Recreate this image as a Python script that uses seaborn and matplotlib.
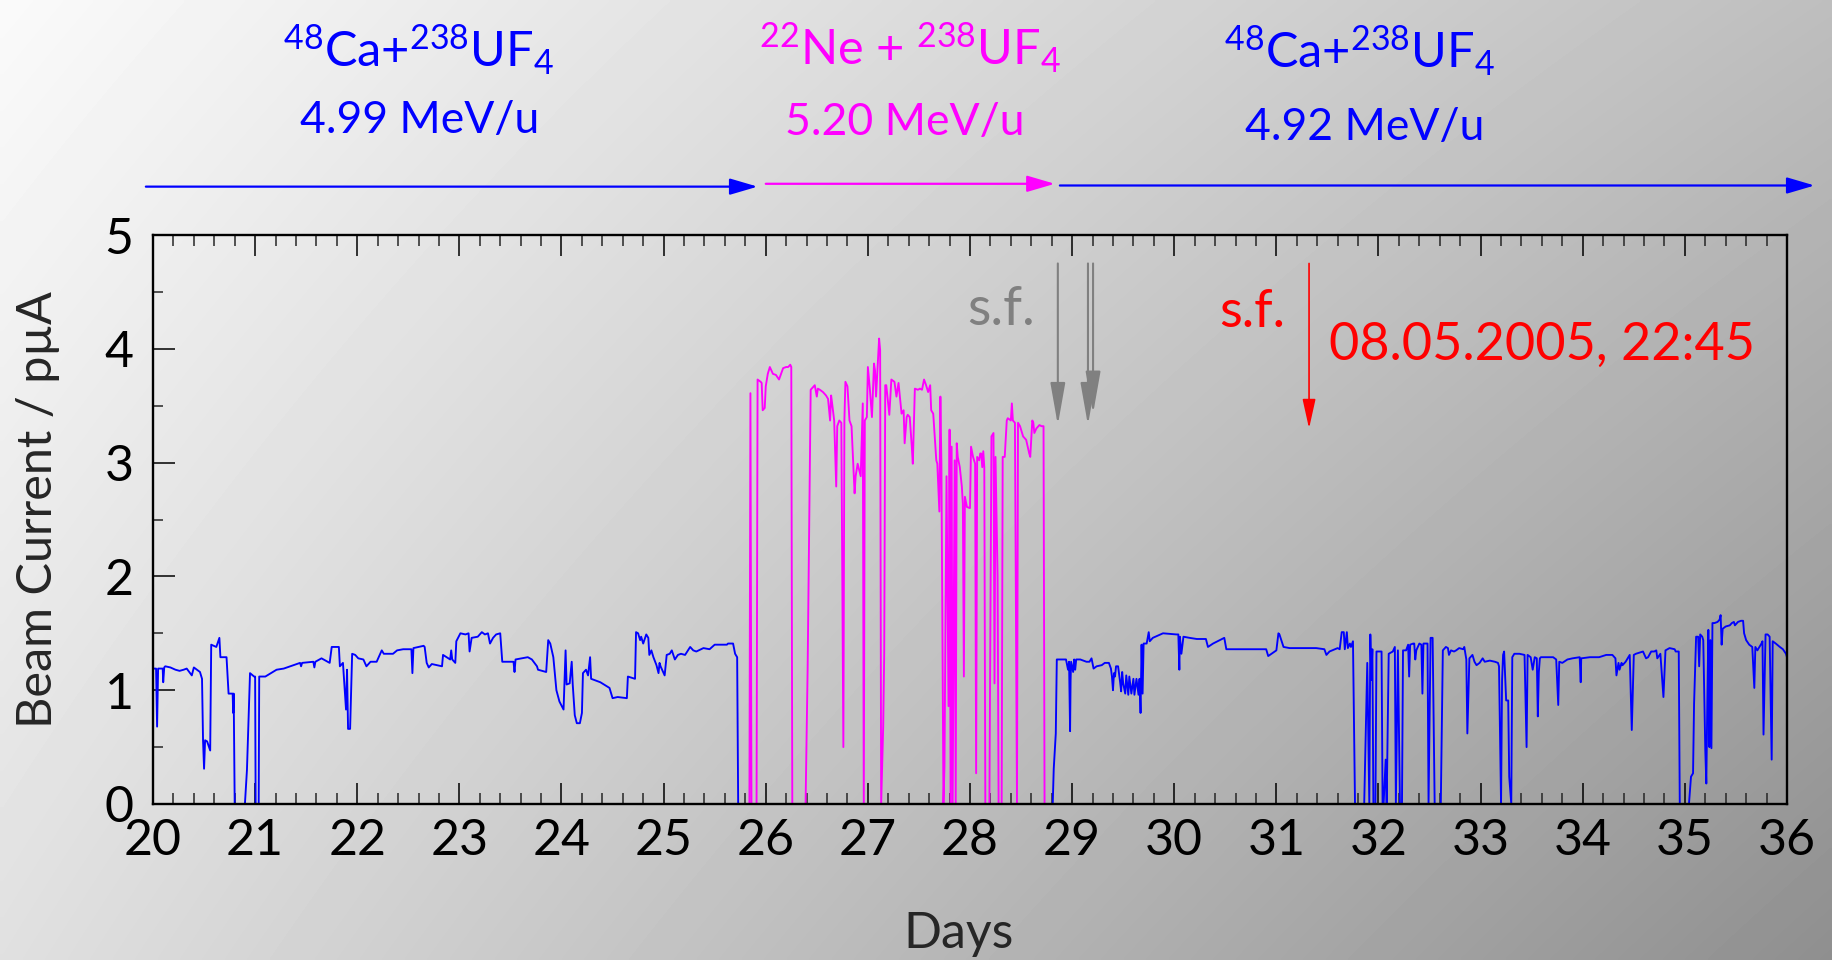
import numpy as np
import pandas as pd
import matplotlib
matplotlib.use("Agg")
import matplotlib.pyplot as plt
from matplotlib.ticker import MultipleLocator
import seaborn as sns

# ---------------- data (day, beam current in pµA) ----------------
BLUE_RUN1 = [
    (20.00, 1.19), (20.03, 1.19), (20.04, 0.68), (20.05, 1.19), (20.095, 1.19), (20.10, 1.07),
    (20.11, 1.20), (20.12, 1.21), (20.17, 1.20), (20.22, 1.18), (20.26, 1.17), (20.30, 1.18),
    (20.33, 1.19), (20.38, 1.13), (20.40, 1.20), (20.43, 1.18), (20.46, 1.16), (20.48, 1.10),
    (20.49, 0.56), (20.50, 0.31), (20.51, 0.56), (20.53, 0.55), (20.56, 0.47), (20.57, 1.40),
    (20.62, 1.38), (20.65, 1.46), (20.66, 1.29), (20.72, 1.29), (20.74, 0.97), (20.78, 0.97),
    (20.785, 0.80), (20.79, 0.97), (20.80, 0.00), (20.90, 0.00), (20.92, 0.30), (20.95, 1.15),
    (20.99, 1.12), (21.00, 1.12), (21.005, 0.00), (21.035, 0.00), (21.04, 1.12), (21.10, 1.12),
    (21.21, 1.18), (21.28, 1.19), (21.44, 1.24), (21.45, 1.21), (21.46, 1.24), (21.57, 1.25),
    (21.58, 1.20), (21.59, 1.25), (21.65, 1.28), (21.73, 1.24), (21.75, 1.38), (21.82, 1.38),
    (21.83, 1.21), (21.86, 1.24), (21.89, 0.83), (21.90, 1.18), (21.91, 0.66), (21.93, 0.66),
    (21.95, 1.32), (21.98, 1.31), (22.01, 1.28), (22.06, 1.27), (22.09, 1.21), (22.13, 1.25),
    (22.19, 1.25), (22.22, 1.31), (22.24, 1.35), (22.26, 1.32), (22.35, 1.32), (22.39, 1.35),
    (22.45, 1.36), (22.53, 1.36), (22.54, 1.15), (22.55, 1.37), (22.65, 1.39), (22.66, 1.38),
    (22.68, 1.24), (22.70, 1.20), (22.73, 1.23), (22.83, 1.21), (22.84, 1.31), (22.91, 1.27),
    (22.92, 1.35), (22.93, 1.27), (22.96, 1.24), (22.97, 1.43), (23.01, 1.50), (23.06, 1.49),
    (23.09, 1.50), (23.10, 1.34), (23.12, 1.46), (23.18, 1.47), (23.22, 1.51), (23.25, 1.49),
    (23.28, 1.50), (23.30, 1.41), (23.33, 1.46), (23.36, 1.49), (23.40, 1.50), (23.42, 1.25),
    (23.53, 1.25), (23.54, 1.16), (23.55, 1.27), (23.67, 1.29), (23.71, 1.27), (23.76, 1.21),
    (23.77, 1.18), (23.85, 1.16), (23.87, 1.44), (23.89, 1.41), (23.92, 1.29), (23.95, 1.00),
    (23.98, 0.90), (24.02, 0.83), (24.04, 1.35), (24.05, 1.05), (24.08, 1.06), (24.10, 1.25),
    (24.11, 1.05), (24.13, 0.78), (24.15, 0.71), (24.18, 0.71), (24.20, 0.80), (24.21, 1.15),
    (24.24, 1.18), (24.26, 1.13), (24.28, 1.29), (24.29, 1.10), (24.38, 1.07), (24.47, 1.02),
    (24.50, 0.93), (24.55, 0.94), (24.64, 0.93), (24.65, 1.12), (24.72, 1.10), (24.73, 1.51),
    (24.75, 1.50), (24.77, 1.44), (24.78, 1.47), (24.80, 1.41), (24.83, 1.49), (24.85, 1.46),
    (24.86, 1.31), (24.88, 1.35), (24.90, 1.29), (24.93, 1.22), (24.95, 1.15), (24.96, 1.24),
    (24.97, 1.21), (25.01, 1.13), (25.03, 1.31), (25.06, 1.32), (25.08, 1.35), (25.11, 1.27),
    (25.14, 1.31), (25.17, 1.32), (25.21, 1.31), (25.26, 1.38), (25.29, 1.35), (25.32, 1.34),
    (25.39, 1.37), (25.45, 1.36), (25.50, 1.40), (25.62, 1.40), (25.63, 1.41), (25.68, 1.41),
    (25.70, 1.32), (25.72, 1.29), (25.73, 0.00),
]

NE_RUN = [
    (25.84, 0.00), (25.85, 3.61), (25.86, 0.00), (25.91, 0.00), (25.92, 3.73), (25.95, 3.71),
    (25.96, 3.70), (25.97, 3.46), (25.99, 3.48), (26.00, 3.67), (26.02, 3.78), (26.04, 3.84),
    (26.06, 3.80), (26.07, 3.78), (26.10, 3.77), (26.13, 3.73), (26.15, 3.78), (26.17, 3.83),
    (26.20, 3.84), (26.22, 3.84), (26.24, 3.86), (26.25, 3.84), (26.26, 0.00), (26.39, 0.00),
    (26.41, 1.18), (26.44, 3.64), (26.45, 3.65), (26.48, 3.68), (26.50, 3.58), (26.51, 3.65),
    (26.53, 3.64), (26.56, 3.62), (26.59, 3.59), (26.61, 3.56), (26.63, 3.37), (26.64, 3.59),
    (26.65, 3.52), (26.67, 3.37), (26.69, 2.79), (26.70, 3.32), (26.72, 3.37), (26.74, 3.35),
    (26.76, 0.50), (26.77, 3.37), (26.78, 3.71), (26.80, 3.67), (26.82, 3.37), (26.84, 3.32),
    (26.87, 2.73), (26.88, 2.88), (26.90, 2.99), (26.93, 2.88), (26.95, 3.52), (26.96, 0.00),
    (26.97, 3.37), (26.99, 3.40), (27.00, 3.84), (27.02, 3.64), (27.04, 3.40), (27.06, 3.87),
    (27.07, 3.81), (27.08, 3.58), (27.11, 4.09), (27.12, 3.99), (27.13, 0.00), (27.15, 0.68),
    (27.16, 1.32), (27.17, 3.68), (27.18, 3.68), (27.21, 3.42), (27.23, 3.73), (27.26, 3.71),
    (27.28, 3.58), (27.30, 3.70), (27.33, 3.43), (27.35, 3.46), (27.36, 3.17), (27.38, 3.40),
    (27.39, 3.42), (27.41, 3.40), (27.43, 3.14), (27.44, 2.99), (27.46, 3.65), (27.49, 3.64),
    (27.51, 3.65), (27.53, 3.64), (27.55, 3.73), (27.57, 3.68), (27.59, 3.62), (27.61, 3.68),
    (27.62, 3.46), (27.64, 3.43), (27.67, 3.02), (27.68, 2.99), (27.70, 2.57), (27.71, 3.58),
    (27.72, 2.99), (27.74, 0.00), (27.75, 0.33), (27.77, 2.88), (27.79, 0.86), (27.80, 3.29),
    (27.81, 0.00), (27.82, 3.14), (27.83, 0.00), (27.85, 3.02), (27.86, 0.00), (27.87, 3.17),
    (27.88, 3.05), (27.90, 2.96), (27.92, 2.79), (27.93, 2.64), (27.94, 1.12), (27.95, 2.70),
    (27.97, 2.61), (28.00, 2.60), (28.01, 3.14), (28.03, 3.05), (28.05, 2.99), (28.06, 0.27),
    (28.07, 3.05), (28.09, 3.02), (28.10, 3.08), (28.11, 3.08), (28.12, 2.96), (28.13, 3.10),
    (28.14, 2.96), (28.15, 0.00), (28.19, 0.00), (28.21, 3.23), (28.23, 3.26), (28.24, 1.06),
    (28.25, 3.05), (28.27, 2.00), (28.28, 0.00), (28.31, 0.00), (28.32, 3.05), (28.34, 3.05),
    (28.36, 3.37), (28.37, 3.39), (28.40, 3.37), (28.41, 3.52), (28.42, 3.37), (28.44, 3.35),
    (28.46, 0.00), (28.47, 3.35), (28.49, 3.32), (28.50, 3.29), (28.52, 3.23), (28.55, 3.20),
    (28.58, 3.08), (28.59, 3.05), (28.61, 3.37), (28.62, 3.35), (28.63, 3.26), (28.65, 3.30),
    (28.67, 3.32), (28.68, 3.33), (28.70, 3.32), (28.72, 3.32), (28.73, 0.00),
]

BLUE_RUN2 = [
    (28.81, 0.00), (28.82, 0.31), (28.84, 0.62), (28.85, 1.27), (28.88, 1.27), (28.93, 1.27),
    (28.94, 1.27), (28.96, 1.18), (28.97, 1.25), (28.98, 0.64), (28.985, 1.09), (28.99, 1.25),
    (29.01, 1.16), (29.02, 1.27), (29.03, 1.18), (29.04, 1.27), (29.08, 1.27), (29.11, 1.26),
    (29.14, 1.25), (29.17, 1.25), (29.19, 1.28), (29.21, 1.19), (29.24, 1.21), (29.29, 1.22),
    (29.32, 1.24), (29.36, 1.24), (29.38, 1.19), (29.39, 1.12), (29.40, 1.00), (29.41, 1.15),
    (29.42, 1.12), (29.43, 1.21), (29.45, 1.21), (29.47, 1.07), (29.48, 0.99), (29.49, 1.16),
    (29.50, 1.06), (29.52, 0.97), (29.53, 1.13), (29.55, 0.96), (29.56, 1.12), (29.58, 0.97),
    (29.60, 1.10), (29.61, 0.96), (29.63, 1.10), (29.65, 0.96), (29.66, 1.10), (29.67, 0.80),
    (29.68, 1.40), (29.69, 0.97), (29.70, 1.41), (29.73, 1.41), (29.75, 1.51), (29.76, 1.43),
    (29.79, 1.46), (29.89, 1.50), (30.02, 1.49), (30.04, 1.49), (30.05, 1.18), (30.055, 1.47),
    (30.07, 1.32), (30.09, 1.47), (30.15, 1.46), (30.22, 1.45), (30.31, 1.45), (30.33, 1.38),
    (30.38, 1.41), (30.49, 1.46), (30.51, 1.36), (30.61, 1.36), (30.74, 1.36), (30.90, 1.36),
    (30.92, 1.30), (31.00, 1.35), (31.02, 1.50), (31.03, 1.49), (31.07, 1.38), (31.13, 1.37),
    (31.39, 1.37), (31.47, 1.36), (31.49, 1.31), (31.52, 1.34), (31.60, 1.37), (31.62, 1.36),
    (31.64, 1.51), (31.66, 1.51), (31.67, 1.36), (31.69, 1.51), (31.70, 1.37), (31.72, 1.41),
    (31.73, 1.38), (31.75, 1.43), (31.77, 0.00), (31.86, 0.00), (31.89, 1.24), (31.91, 0.00),
    (31.92, 1.49), (31.93, 1.09), (31.94, 1.36), (31.95, 0.00), (31.97, 0.00), (31.98, 1.34),
    (32.03, 1.34), (32.04, 0.00), (32.05, 0.00), (32.07, 0.39), (32.08, 0.00), (32.10, 1.32),
    (32.14, 1.34), (32.16, 1.38), (32.17, 0.00), (32.19, 1.35), (32.21, 0.00), (32.23, 0.00),
    (32.24, 1.35), (32.27, 1.35), (32.29, 1.40), (32.30, 1.12), (32.31, 1.40), (32.34, 1.41),
    (32.35, 1.41), (32.36, 1.27), (32.37, 1.35), (32.40, 1.41), (32.42, 1.40), (32.43, 0.97),
    (32.44, 1.41), (32.47, 1.41), (32.48, 1.41), (32.49, 0.00), (32.51, 1.46), (32.53, 1.46),
    (32.55, 0.00), (32.61, 0.00), (32.63, 1.35), (32.65, 1.37), (32.66, 1.38), (32.68, 1.37),
    (32.69, 1.31), (32.71, 1.35), (32.74, 1.34), (32.76, 1.35), (32.79, 1.37), (32.83, 1.36),
    (32.84, 1.38), (32.86, 1.27), (32.87, 0.62), (32.89, 1.28), (32.92, 1.31), (32.94, 1.25),
    (32.96, 1.22), (32.99, 1.24), (33.02, 1.28), (33.04, 1.25), (33.09, 1.26), (33.14, 1.25),
    (33.17, 1.24), (33.18, 1.21), (33.20, 0.00), (33.21, 1.09), (33.22, 1.31), (33.23, 1.34),
    (33.25, 0.91), (33.27, 0.91), (33.28, 0.24), (33.30, 0.00), (33.31, 1.29), (33.33, 1.32),
    (33.38, 1.32), (33.43, 1.31), (33.45, 0.50), (33.46, 1.31), (33.49, 1.29), (33.51, 1.18),
    (33.53, 1.29), (33.55, 1.28), (33.56, 0.77), (33.57, 1.16), (33.58, 1.28), (33.59, 1.29),
    (33.64, 1.29), (33.71, 1.29), (33.74, 1.27), (33.76, 0.87), (33.77, 1.25), (33.80, 1.24),
    (33.85, 1.27), (33.90, 1.28), (33.97, 1.29), (33.98, 1.07), (33.985, 1.28), (34.07, 1.29),
    (34.16, 1.29), (34.23, 1.31), (34.29, 1.31), (34.32, 1.28), (34.33, 1.13), (34.35, 1.24),
    (34.36, 1.18), (34.38, 1.24), (34.39, 1.22), (34.42, 1.25), (34.46, 1.31), (34.48, 0.65),
    (34.50, 1.31), (34.52, 1.32), (34.59, 1.34), (34.62, 1.28), (34.64, 1.29), (34.67, 1.34),
    (34.70, 1.34), (34.72, 1.35), (34.73, 1.28), (34.76, 1.32), (34.79, 0.94), (34.81, 1.35),
    (34.85, 1.37), (34.90, 1.36), (34.91, 1.34), (34.94, 1.34), (34.95, 0.00), (35.04, 0.00),
    (35.06, 0.24), (35.08, 0.27), (35.09, 0.88), (35.11, 1.47), (35.13, 1.47), (35.14, 1.21),
    (35.15, 1.49), (35.17, 1.47), (35.18, 1.44), (35.20, 0.47), (35.21, 0.18), (35.22, 0.91),
    (35.23, 1.53), (35.235, 0.83), (35.24, 0.50), (35.25, 1.44), (35.26, 0.49), (35.27, 1.59),
    (35.29, 1.59), (35.32, 1.60), (35.34, 1.62), (35.35, 1.66), (35.36, 1.40), (35.37, 1.54),
    (35.40, 1.56), (35.44, 1.57), (35.46, 1.59), (35.48, 1.60), (35.49, 1.57), (35.52, 1.60),
    (35.55, 1.61), (35.57, 1.61), (35.58, 1.50), (35.60, 1.44), (35.63, 1.40), (35.66, 1.38),
    (35.68, 1.02), (35.69, 1.38), (35.71, 1.35), (35.73, 1.38), (35.75, 1.41), (35.76, 1.43),
    (35.77, 0.61), (35.79, 1.49), (35.81, 1.49), (35.83, 1.47), (35.85, 0.39), (35.86, 1.43),
    (35.89, 1.41), (35.93, 1.38), (35.96, 1.36), (35.99, 1.32), (36.00, 1.29),
]

X_TICKS = list(range(20, 37))
Y_TICKS = [0, 1, 2, 3, 4, 5]

BEAM_LABELS = [r"$^{48}$Ca+$^{238}$UF$_4$", r"$^{22}$Ne + $^{238}$UF$_4$", r"$^{48}$Ca+$^{238}$UF$_4$"]
ENERGY_LABELS = ["4.99 MeV/u", "5.20 MeV/u", "4.92 MeV/u"]
SF_TIMES_GRAY = [28.86, 29.155, 29.205]
SF_TIME_RED = 31.32
SF_DATE = "08.05.2005, 22:45"

BLUE = "#0000ff"
MAGENTA = "#ff00ff"
RED = "#ff0000"
GRAY = "#808080"

# ---------------- style ----------------
sns.set_style("ticks")
plt.rcParams["font.family"] = ["Lato", "DejaVu Sans"]
plt.rcParams["mathtext.fontset"] = "custom"
plt.rcParams["mathtext.rm"] = "Lato"
plt.rcParams["mathtext.it"] = "Lato:italic"
plt.rcParams["mathtext.bf"] = "Lato:bold"

fig = plt.figure(figsize=(18.33, 9.6), dpi=100)

# gradient background
bg = fig.add_axes([0, 0, 1, 1], zorder=-10)
gx, gy = np.meshgrid(np.linspace(0, 1, 300), np.linspace(0, 1, 300))
TL, TR, BL, BR = 250, 190, 224, 143
grad = TL * (1 - gx) * (1 - gy) + TR * gx * (1 - gy) + BL * (1 - gx) * gy + BR * gx * gy
bg.imshow(grad, cmap="gray", vmin=0, vmax=255, extent=[0, 1, 0, 1], aspect="auto",
          interpolation="bilinear")
bg.set_xlim(0, 1)
bg.set_ylim(0, 1)
bg.axis("off")

W, H = 1833, 960
ax = fig.add_axes([153 / W, 1 - 804 / H, 1634 / W, 569 / H])
ax.set_facecolor("none")

for run, color in [(BLUE_RUN1, BLUE), (NE_RUN, MAGENTA), (BLUE_RUN2, BLUE)]:
    df = pd.DataFrame(run, columns=["day", "current"])
    sns.lineplot(data=df, x="day", y="current", ax=ax, color=color, lw=1.35,
                 sort=False, estimator=None)

ax.set_xlim(20, 36)
ax.set_ylim(0, 5)
ax.set_xticks(X_TICKS)
ax.set_yticks(Y_TICKS)
ax.xaxis.set_minor_locator(MultipleLocator(0.2))
ax.yaxis.set_minor_locator(MultipleLocator(0.5))
ax.tick_params(axis="x", which="major", direction="in", length=15, width=1.1,
               top=True, labelsize=36, pad=10, colors="black")
ax.tick_params(axis="x", which="minor", direction="in", length=8, width=1.1, top=True)
ax.tick_params(axis="y", which="major", direction="in", length=16, width=1.1,
               right=False, labelsize=36, pad=14, colors="black")
ax.tick_params(axis="y", which="minor", direction="in", length=7, width=1.1, right=False)
for s in ax.spines.values():
    s.set_linewidth(1.7)
    s.set_color("black")

ax.set_xlabel("Days", fontsize=36)
ax.xaxis.label.set_va("baseline")
ax.xaxis.set_label_coords(0.493, -0.253)
ax.set_ylabel("Beam Current / pµA", fontsize=35)
ax.yaxis.label.set_va("baseline")
ax.yaxis.set_label_coords(-0.062, 0.518)

trans = ax.get_xaxis_transform()

# top beam labels
beam_pos = [(22.60, 1.295), (27.41, 1.299), (31.82, 1.293)]
energy_pos = [(22.61, 1.179), (27.36, 1.176), (31.86, 1.167)]
colors = [BLUE, MAGENTA, BLUE]
for lab, (x, y), c in zip(BEAM_LABELS, beam_pos, colors):
    ax.text(x, y, lab, transform=trans, ha="center", va="baseline", color=c, fontsize=35)
for lab, (x, y), c in zip(ENERGY_LABELS, energy_pos, colors):
    ax.text(x, y, lab, transform=trans, ha="center", va="baseline", color=c, fontsize=32)

# period arrows
periods = [(19.93, 25.92, 1.085, BLUE), (26.00, 28.83, 1.090, MAGENTA), (28.88, 36.27, 1.087, BLUE)]
for x0, x1, y, c in periods:
    ax.annotate("", xy=(x1, y), xytext=(x0, y), xycoords=trans, textcoords=trans,
                arrowprops=dict(arrowstyle="-|>,head_length=0.85,head_width=0.25",
                                color=c, lw=1.6, mutation_scale=20, shrinkA=0, shrinkB=0))

# spontaneous fission markers
ends = [3.33, 3.33, 3.43]
for x, yend in zip(SF_TIMES_GRAY, ends):
    ax.annotate("", xy=(x, yend), xytext=(x, 4.75), xycoords="data", annotation_clip=False,
                arrowprops=dict(arrowstyle="-|>,head_length=1.3,head_width=0.23",
                                color=GRAY, lw=1.5, mutation_scale=20, shrinkA=0, shrinkB=0))
ax.annotate("", xy=(SF_TIME_RED, 3.30), xytext=(SF_TIME_RED, 4.75), xycoords="data",
            annotation_clip=False,
            arrowprops=dict(arrowstyle="-|>,head_length=0.9,head_width=0.2",
                            color=RED, lw=1.2, mutation_scale=20, shrinkA=0, shrinkB=0))
ax.text(28.64, 4.21, "s.f.", color=GRAY, ha="right", va="baseline", fontsize=39)
ax.text(31.09, 4.19, "s.f.", color=RED, ha="right", va="baseline", fontsize=38)
ax.text(31.52, 3.90, SF_DATE, color=RED, ha="left", va="baseline", fontsize=37.5)

fig.savefig("out.png", dpi=100)
